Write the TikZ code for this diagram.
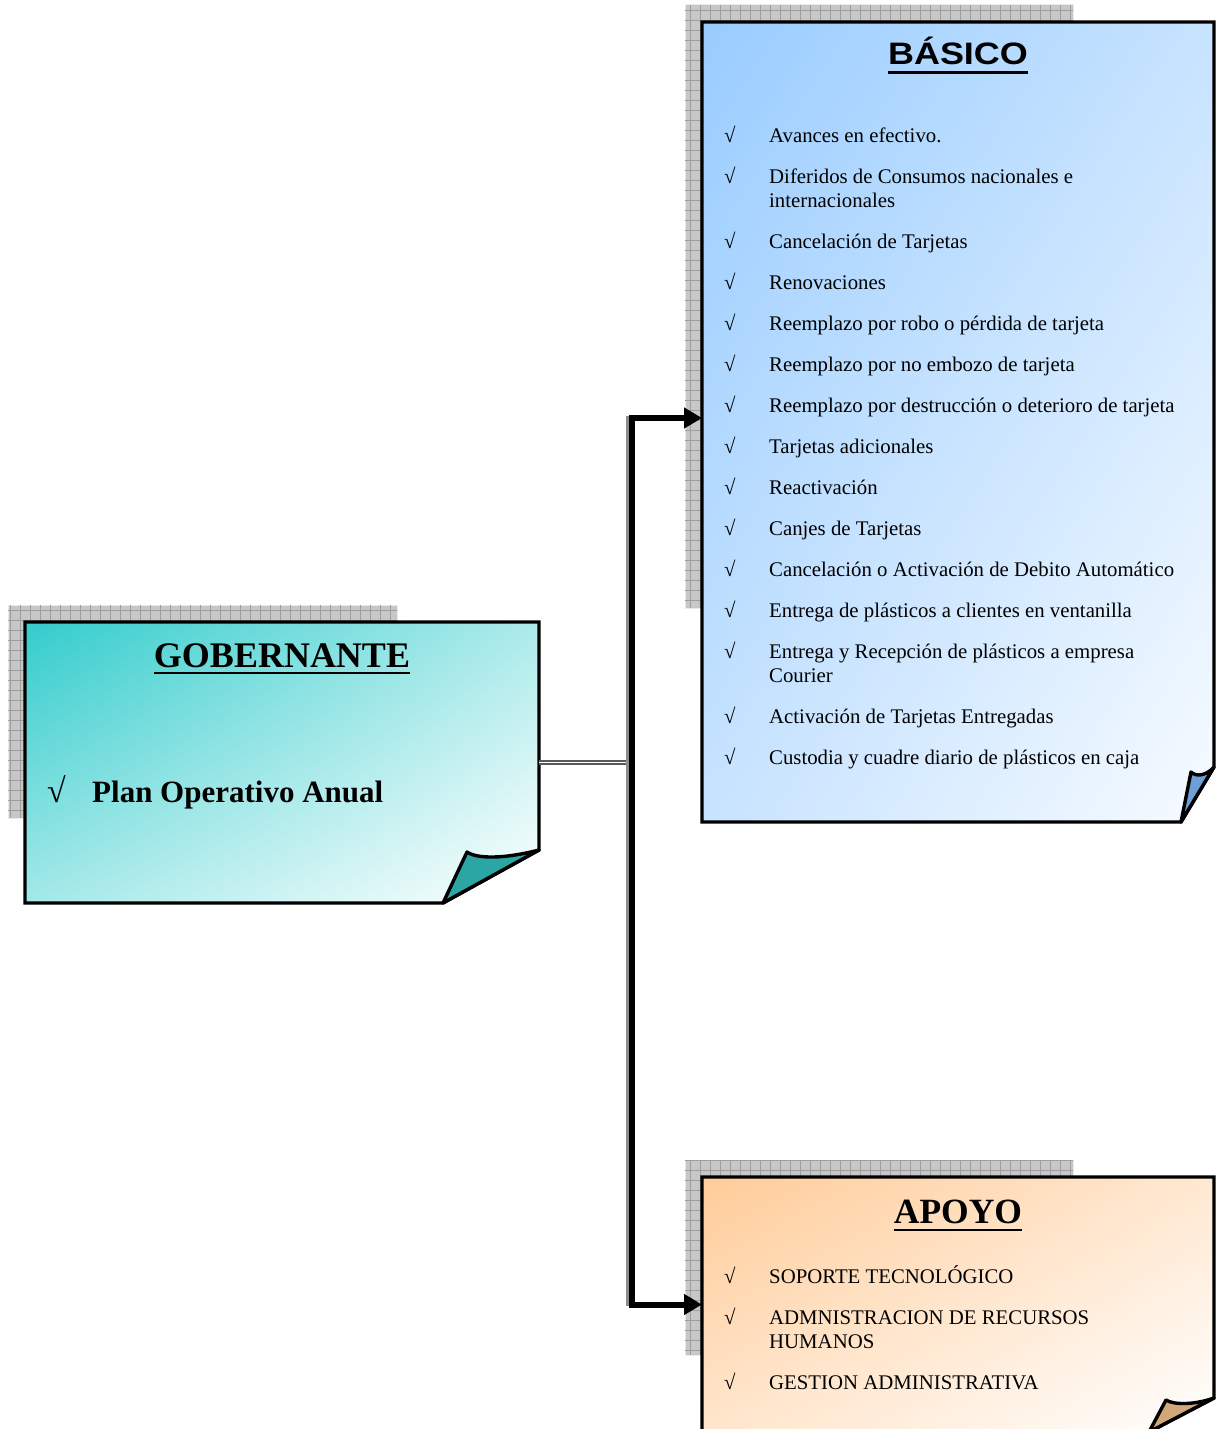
\documentclass[tikz,border=0pt]{standalone}
\usepackage{fontspec}
\setmainfont{Liberation Serif}
\newfontfamily\titlesans[FakeStretch=1.16]{Liberation Sans}
\usetikzlibrary{arrows.meta,calc,positioning,shadings}

\definecolor{gobtop}{HTML}{33CCCC}
\definecolor{gobflap}{HTML}{2CA6A4}
\definecolor{bastop}{HTML}{99CCFF}
\definecolor{basflap}{HTML}{6E9FD6}
\definecolor{apotop}{HTML}{FFCC99}
\definecolor{apoflap}{HTML}{D4A77A}

\newcommand{\chkmark}{\makebox[45pt][l]{√}}

\tikzset{
	cardbox/.style = {inner sep=0pt, outer sep=0pt},
	cardline/.style = {draw=black, line width=3.4pt, line join=miter},
	flapline/.style = {draw=black, line width=3.4pt, line join=round},
	shadowbox/.style = {fill=black!22, draw=black!8, line width=1pt},
	shadowgrid/.style = {draw=black!38, line width=0.8pt},
	title/.style = {inner sep=0pt, anchor=base, font=\bfseries\fontsize{36}{40}\selectfont},
	uline/.style = {line width=2.8pt},
	itemlist/.style = {inner sep=0pt, anchor=north west, align=left, font=\fontsize{20.8}{24}\selectfont},
	link/.style = {draw=black!65, double=white, line width=2pt, double distance=1.4pt},
	conn/.style = {line width=6pt, line join=miter},
	connshadow/.style = {conn, draw=black!45},
	tip/.style = {{Triangle[length=18pt,width=20pt]}-{Triangle[length=18pt,width=20pt]}}
}

\begin{document}
\begin{tikzpicture}[x=1pt, y=-1pt]
	\useasboundingbox (0,0) rectangle (1216,1429);

	\node [cardbox, minimum width=514pt, minimum height=281pt] (gob) at (282,762.5) {};
	\node [cardbox, minimum width=512pt, minimum height=800pt] (bas) at (958,422) {};
	\node [cardbox, minimum width=512pt, minimum height=255pt] (apo) at (958,1304.5) {};

	% grid shadows behind the cards
	\foreach \c/\w/\h in {gob/389/213, bas/388/603, apo/388/195}{
		\filldraw [shadowbox] ($(\c.north west)+(-17,-17)$) coordinate (s1) rectangle ++(\w,\h) coordinate (s2);
		\draw [shadowgrid] (s1) grid[step=10pt] (s2);
	}

	% cards with folded corner
	\shadedraw [cardline, upper left=gobtop, upper right=gobtop!40, lower left=gobtop!45, lower right=white]
		(gob.north west) -- (gob.north east) -- ($(gob.south east)+(0,-53)$)
		-- ($(gob.south east)+(-96,0)$) -- (gob.south west) -- cycle;
	\filldraw [flapline, fill=gobflap] ($(gob.south east)+(-96,0)$) -- ($(gob.south east)+(-72,-51)$)
		.. controls ($(gob.south east)+(-62,-44)$) and ($(gob.south east)+(-35,-44)$) .. ($(gob.south east)+(0,-53)$) -- cycle;

	\shadedraw [cardline, upper left=bastop, upper right=bastop!55, lower left=bastop!55, lower right=bastop!8]
		(bas.north west) -- (bas.north east) -- ($(bas.south east)+(0,-55)$)
		-- ($(bas.south east)+(-33,0)$) -- (bas.south west) -- cycle;
	\filldraw [flapline, fill=basflap] ($(bas.south east)+(-33,0)$) -- ($(bas.south east)+(-23,-50)$)
		.. controls ($(bas.south east)+(-18,-45)$) and ($(bas.south east)+(-8,-46)$) .. ($(bas.south east)+(0,-55)$) -- cycle;

	\shadedraw [cardline, upper left=apotop, upper right=apotop!45, lower left=apotop!50, lower right=white]
		(apo.north west) -- (apo.north east) -- ($(apo.south east)+(0,-34)$)
		-- ($(apo.south east)+(-65,0)$) -- (apo.south west) -- cycle;
	\filldraw [flapline, fill=apoflap] ($(apo.south east)+(-65,0)$) -- ($(apo.south east)+(-48,-32)$)
		.. controls ($(apo.south east)+(-40,-27)$) and ($(apo.south east)+(-20,-27)$) .. ($(apo.south east)+(0,-34)$) -- cycle;

	% titles
	\node [title] (gobT) at ($(gob.north)+(0,45)$) {GOBERNANTE};
	\draw [uline] ([yshift=-6pt]gobT.base west) -- ([yshift=-6pt]gobT.base east);
	\node [title, font=\titlesans\bfseries\fontsize{31}{34}\selectfont] (basT) at ($(bas.north)+(0,43)$) {BÁSICO};
	\draw [uline] ([yshift=-7.5pt]basT.base west) -- ([yshift=-7.5pt]basT.base east);
	\node [title, font=\bfseries\fontsize{35.5}{40}\selectfont] (apoT) at ($(apo.north)+(0,46)$) {APOYO};
	\draw [uline] ([yshift=-7pt]apoT.base west) -- ([yshift=-7pt]apoT.base east);

	% contents
	\node [inner sep=0pt, anchor=base west, font=\fontsize{34}{38}\selectfont] (gobC) at ($(gob.west)+(22,39.5)$) {√};
	\node [inner sep=0pt, anchor=base west, font=\bfseries\fontsize{31}{36}\selectfont] (gobL) at ($(gobC.base west)+(45,0)$) {Plan Operativo Anual};

	\node [itemlist] (basL) at ($(bas.north west)+(22,103.2)$) {%
		\begin{tabular}{@{}l@{}l@{}}
			\chkmark & Avances en efectivo.\\[17pt]
			\chkmark & Diferidos de Consumos nacionales e\\
			         & internacionales\\[17pt]
			\chkmark & Cancelación de Tarjetas\\[17pt]
			\chkmark & Renovaciones\\[17pt]
			\chkmark & Reemplazo por robo o pérdida de tarjeta\\[17pt]
			\chkmark & Reemplazo por no embozo de tarjeta\\[17pt]
			\chkmark & Reemplazo por destrucción o deterioro de tarjeta\\[17pt]
			\chkmark & Tarjetas adicionales\\[17pt]
			\chkmark & Reactivación\\[17pt]
			\chkmark & Canjes de Tarjetas\\[17pt]
			\chkmark & Cancelación o Activación de Debito Automático\\[17pt]
			\chkmark & Entrega de plásticos a clientes en ventanilla\\[17pt]
			\chkmark & Entrega y Recepción de plásticos a empresa\\
			         & Courier\\[17pt]
			\chkmark & Activación de Tarjetas Entregadas\\[17pt]
			\chkmark & Custodia y cuadre diario de plásticos en caja
		\end{tabular}};

	\node [itemlist] (apoL) at ($(apo.north west)+(22,88)$) {%
		\begin{tabular}{@{}l@{}l@{}}
			\chkmark & SOPORTE TECNOLÓGICO\\[17pt]
			\chkmark & ADMNISTRACION DE RECURSOS\\
			         & HUMANOS\\[17pt]
			\chkmark & GESTION ADMINISTRATIVA
		\end{tabular}};

	% connectors
	\coordinate (jn) at ($(gob.east)+(93,0)$);
	\coordinate (jtop) at ($(jn |- bas.west)+(0,-4)$);
	\coordinate (jbot) at (jn |- apo.west);
	\draw [link] (gob.east) -- (jn);
	\draw [connshadow] ([xshift=-3pt,yshift=2pt]jtop) -- ([xshift=-3pt,yshift=-1pt]jbot);
	\draw [conn, tip] ([yshift=4pt]bas.west) -- (jtop) -- (jbot) -- (apo.west);
\end{tikzpicture}
\end{document}
